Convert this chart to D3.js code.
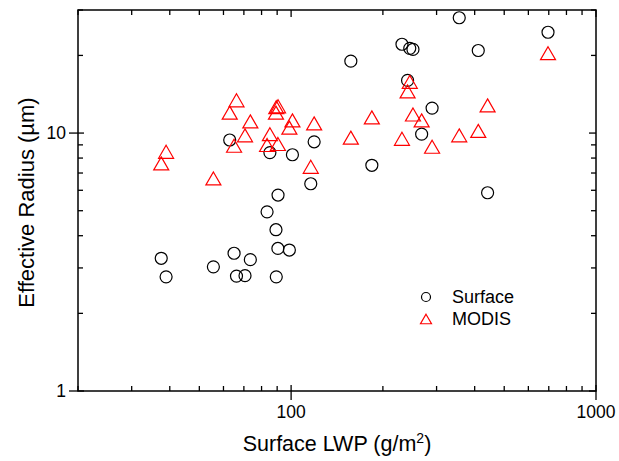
<!DOCTYPE html>
<html>
<head>
<meta charset="utf-8">
<script src="https://cdn.jsdelivr.net/npm/d3@7"></script>
<style>
  html, body { margin: 0; background: #fff; overflow: hidden; }
  svg { display: block; }
  text { font-family: "Liberation Sans", Arial, Helvetica, sans-serif; fill: #000; }
</style>
</head>
<body>
<div id="plot"></div>
<script>
// surface LWP (g/m2), shared x for both retrievals
const lwp = [356, 696, 231, 245, 251, 411, 157, 241, 290, 268,
             119, 62.9, 85.2, 101, 184, 116, 441, 90.6, 83.4, 89.2,
             90.5, 98.7, 37.5, 38.9, 55.6, 65.0, 73.5, 66.2, 70.6, 89.4];
// effective radius (um)
const surfaceRe = [28.0, 24.6, 22.1, 21.3, 21.1, 20.9, 19.0, 16.0, 12.5, 9.9,
                   9.25, 9.4, 8.4, 8.24, 7.5, 6.36, 5.87, 5.75, 4.95, 4.22,
                   3.57, 3.52, 3.27, 2.77, 3.03, 3.42, 3.23, 2.79, 2.80, 2.77];
const modisRe = [9.8, 20.4, 9.5, 15.8, 11.8, 10.2, 9.6, 14.5, 8.85, 11.2,
                 10.9, 12.0, 9.9, 11.2, 11.5, 7.4, 12.8, 12.7, 8.99, 12.0,
                 9.07, 10.5, 7.63, 8.46, 6.67, 8.93, 11.1, 13.4, 9.8, 12.6];

const xMajor = [100, 1000];
const xMinor = [20, 30, 40, 50, 60, 70, 80, 90, 200, 300, 400, 500, 600, 700, 800, 900];
const yMajor = [1, 10];
const yMinor = [2, 3, 4, 5, 6, 7, 8, 9, 20, 30];
const seriesNames = ["Surface", "MODIS"];

const w = 619, h = 461;
const margin = {left: 78, right: 23, top: 10, bottom: 70};
const innerWidth = w - margin.left - margin.right;
const innerHeight = h - margin.top - margin.bottom;

const xScale = d3.scaleLog().domain([20, 1000]).range([0, innerWidth]);
const yScale = d3.scaleLog().domain([1, 30]).range([innerHeight, 0]);

const tri = s => `M0,${-s * 0.433}L${s / 2},${s * 0.433}L${-s / 2},${s * 0.433}Z`;

const svg = d3.select("div#plot")
  .append("svg")
  .attr("width", w)
  .attr("height", h);

const g = svg.append("g")
  .attr("id", "plotarea")
  .attr("transform", `translate(${margin.left}, ${margin.top})`);

// frame
g.append("rect")
  .attr("width", innerWidth)
  .attr("height", innerHeight)
  .attr("fill", "none")
  .attr("stroke", "#000")
  .attr("stroke-width", 1.5);

// ticks
const ticks = g.append("g").attr("stroke", "#000").attr("stroke-width", 1.3);
xMinor.forEach(v => {
  ticks.append("line").attr("x1", xScale(v)).attr("x2", xScale(v)).attr("y1", innerHeight).attr("y2", innerHeight - 5);
  ticks.append("line").attr("x1", xScale(v)).attr("x2", xScale(v)).attr("y1", 0).attr("y2", 5);
});
xMajor.forEach(v => {
  ticks.append("line").attr("x1", xScale(v)).attr("x2", xScale(v)).attr("y1", innerHeight + 9).attr("y2", innerHeight - 6);
  ticks.append("line").attr("x1", xScale(v)).attr("x2", xScale(v)).attr("y1", 0).attr("y2", 7);
});
yMinor.forEach(v => {
  ticks.append("line").attr("y1", yScale(v)).attr("y2", yScale(v)).attr("x1", 0).attr("x2", 5);
  ticks.append("line").attr("y1", yScale(v)).attr("y2", yScale(v)).attr("x1", innerWidth).attr("x2", innerWidth - 5);
});
yMajor.forEach(v => {
  ticks.append("line").attr("y1", yScale(v)).attr("y2", yScale(v)).attr("x1", -9).attr("x2", 6);
  ticks.append("line").attr("y1", yScale(v)).attr("y2", yScale(v)).attr("x1", innerWidth).attr("x2", innerWidth - 7);
});

// tick labels
g.selectAll("text.xlab")
  .data(xMajor)
  .enter()
  .append("text")
  .attr("class", "xlab")
  .attr("x", d => xScale(d))
  .attr("y", innerHeight + 27)
  .attr("text-anchor", "middle")
  .style("font-size", "17.5px")
  .text(d => d);

g.selectAll("text.ylab")
  .data(yMajor)
  .enter()
  .append("text")
  .attr("class", "ylab")
  .attr("x", -12)
  .attr("y", d => yScale(d))
  .attr("dy", "0.35em")
  .attr("text-anchor", "end")
  .style("font-size", "17.5px")
  .text(d => d);

// axis titles
const xt = svg.append("text")
  .attr("x", margin.left + innerWidth / 2)
  .attr("y", 451)
  .attr("text-anchor", "middle")
  .style("font-size", "21.5px");
xt.append("tspan").text("Surface LWP (g/m");
xt.append("tspan").attr("dy", -8).style("font-size", "14px").text("2");
xt.append("tspan").attr("dy", 8).text(")");

svg.append("text")
  .attr("transform", `translate(34, ${margin.top + innerHeight / 2 + 2}) rotate(-90)`)
  .attr("text-anchor", "middle")
  .style("font-size", "22px")
  .text("Effective Radius (\u00b5m)");

// points
const idx = d3.range(lwp.length);
g.append("g")
  .attr("id", "surface")
  .selectAll("circle")
  .data(idx)
  .enter()
  .append("circle")
  .attr("cx", i => xScale(lwp[i]))
  .attr("cy", i => yScale(surfaceRe[i]))
  .attr("r", 6)
  .attr("fill", "none")
  .attr("stroke", "#000")
  .attr("stroke-width", 1.2);

g.append("g")
  .attr("id", "modis")
  .selectAll("path")
  .data(idx)
  .enter()
  .append("path")
  .attr("d", tri(15))
  .attr("transform", i => `translate(${xScale(lwp[i])}, ${yScale(modisRe[i])})`)
  .attr("fill", "none")
  .attr("stroke", "#ff0000")
  .attr("stroke-width", 1.2);

// legend
const legend = svg.append("g").attr("transform", "translate(426, 297)");
legend.append("circle").attr("r", 4.5).attr("fill", "none").attr("stroke", "#000").attr("stroke-width", 1.2);
legend.append("path").attr("d", tri(11)).attr("transform", "translate(0, 22)")
  .attr("fill", "none").attr("stroke", "#ff0000").attr("stroke-width", 1.2);
legend.selectAll("text")
  .data(seriesNames)
  .enter()
  .append("text")
  .attr("x", 26)
  .attr("y", (d, i) => i * 22)
  .attr("dy", "0.35em")
  .style("font-size", "18px")
  .text(d => d);
</script>
</body>
</html>
